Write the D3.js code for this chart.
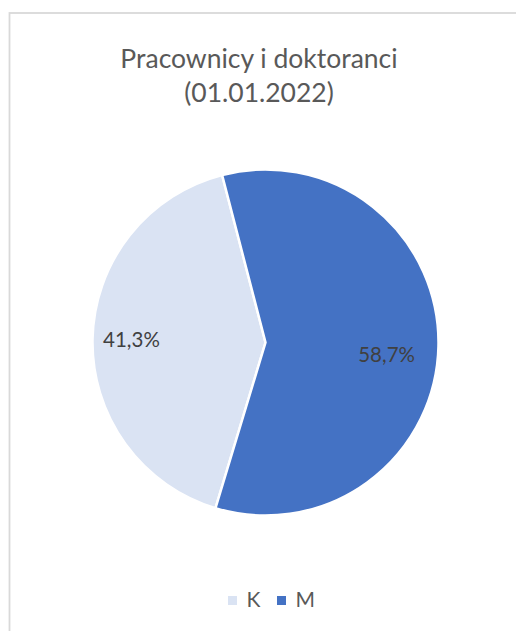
<!DOCTYPE html>
<html><head><meta charset="utf-8">
<script src="https://cdn.jsdelivr.net/npm/d3@7"></script>
<style>html,body{margin:0;padding:0;background:#fff;}svg{display:block;}</style>
</head><body>
<svg id="chart" width="516" height="631"></svg>
<script>
const categories = ["K", "M"];
const values = [41.3, 58.7];
const labels = ["41,3%", "58,7%"];
const titleLines = ["Pracownicy i doktoranci", "(01.01.2022)"];
const colors = ["#DAE3F3", "#4472C4"];

const svg = d3.select("#chart");
const W = 516, H = 631;
const font = "Lato, 'Open Sans', sans-serif";

svg.append("rect").attr("x", 9.5).attr("y", 13).attr("width", 600).attr("height", 700)
  .attr("fill", "#fff").attr("stroke", "#d9d9d9").attr("stroke-width", 1.8);

const title = svg.append("text").attr("text-anchor", "middle").attr("fill", "#595959")
  .style("font-family", font).style("font-size", "26.5px");
titleLines.forEach((t, i) => {
  title.append("tspan").attr("x", 259).attr("y", 68 + i * 34).text(t);
});

const cx = 265.5, cy = 342.5, R = 173;
const g = svg.append("g").attr("transform", `translate(${cx},${cy})`);
const startDeg = 196.8;
const pie = d3.pie().sort(null).value(d => d)
  .startAngle(startDeg * Math.PI / 180).endAngle((startDeg + 360) * Math.PI / 180);
const arcs = pie(values);
const arc = d3.arc().innerRadius(0).outerRadius(R);
g.selectAll("path").data(arcs).join("path")
  .attr("d", arc).attr("fill", (d, i) => colors[i])
  .attr("stroke", "#fff").attr("stroke-width", 2.5).attr("stroke-linejoin", "miter");

const labelRadii = [0.775, 0.70];
const labelDy = [0, 10];
g.selectAll("text.lbl").data(arcs).join("text").attr("class", "lbl")
  .attr("transform", (d, i) => {
    const r = R * labelRadii[i];
    const c = d3.arc().innerRadius(r).outerRadius(r).centroid(d);
    return `translate(${c[0]},${c[1] + labelDy[i]})`;
  })
  .attr("text-anchor", "middle").attr("dy", "0.35em")
  .attr("fill", "#404040").style("font-family", font).style("font-size", "20.5px")
  .text((d, i) => labels[i]);

const leg = svg.append("g");
const legX = [228, 277];
categories.forEach((c, i) => {
  leg.append("rect").attr("x", legX[i]).attr("y", 596).attr("width", 9).attr("height", 9).attr("fill", colors[i]);
  leg.append("text").attr("x", legX[i] + 18.5).attr("y", 607.3).attr("fill", "#595959")
    .style("font-family", font).style("font-size", "21px").text(c);
});
</script>
</body></html>
